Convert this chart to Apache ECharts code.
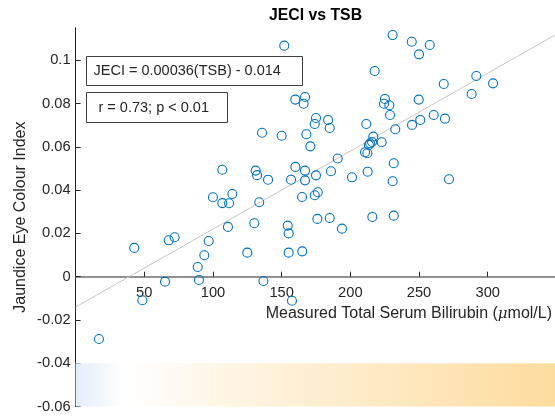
<!DOCTYPE html>
<html>
<head>
<meta charset="utf-8">
<script src="https://cdn.jsdelivr.net/npm/echarts@6/dist/echarts.min.js"></script>
<style>
  html, body { margin: 0; padding: 0; background: #fff; }
  #chart { width: 555px; height: 417px; }
</style>
</head>
<body>
<div id="chart"></div>
<script>
// measured total serum bilirubin (umol/L) and jaundice eye colour index
const tsb = [
    17.0, 42.7, 48.6, 65.1, 67.8, 72.1, 88.9, 89.8, 93.7, 96.9,
    100.0, 106.8, 106.8, 111.7, 110.9, 114.1, 125.0, 130.1, 131.1, 132.1,
    133.7, 136.7, 140.1, 154.4, 155.1, 155.1, 156.8, 157.5, 160.0, 164.8,
    165.0, 167.0, 167.0, 174.1, 175.0, 176.3, 176.0, 185.0, 185.9, 190.8,
    193.9, 201.2, 210.7, 212.4, 212.6, 216.0, 230.8, 231.6, 231.6, 271.8,
    135.7, 150.0, 151.9, 159.9, 166.0, 167.0, 168.0, 170.9, 174.1, 175.0,
    183.8, 185.0, 211.6, 214.3, 215.8, 213.5, 216.7, 217.7, 222.8, 224.5,
    225.2, 228.4, 228.9, 230.8, 232.7, 244.7, 244.9, 249.8, 250.0, 250.9,
    257.8, 260.7, 268.0, 268.9, 288.3, 291.7, 303.9,
];
const jeci = [
    -0.0288, 0.0133, -0.0109, -0.0023, 0.0168, 0.0182, 0.0045, -0.0015, 0.0099, 0.0165,
    0.0367, 0.0494, 0.0340, 0.0339, 0.0230, 0.0382, 0.0111, 0.0247, 0.0490, 0.0469,
    0.0344, -0.0020, 0.0448, 0.0236, 0.0200, 0.0111, 0.0448, -0.0111, 0.0507, 0.0368,
    0.0117, 0.0490, 0.0445, 0.0376, 0.0468, 0.0390, 0.0267, 0.0271, 0.0487, 0.0546,
    0.0222, 0.0459, 0.0575, 0.0570, 0.0485, 0.0276, 0.0441, 0.0524, 0.0282, 0.0450,
    0.0665, 0.0651, 0.1067, 0.0818, 0.0799, 0.0830, 0.0658, 0.0602, 0.0705, 0.0733,
    0.0724, 0.0687, 0.0705, 0.0616, 0.0622, 0.0608, 0.0647, 0.0950, 0.0621, 0.0799,
    0.0821, 0.0792, 0.0747, 0.1116, 0.0681, 0.1085, 0.0701, 0.0818, 0.1027, 0.0724,
    0.1070, 0.0747, 0.0890, 0.0730, 0.0844, 0.0927, 0.0893,
];

// JECI = 0.00036(TSB) - 0.014, end points across the axis
const fitLine = [[0, -0.014], [350, 0.112]];
const xTicks = [50, 100, 150, 200, 250, 300];
const yTicks = [-0.06, -0.04, -0.02, 0, 0.02, 0.04, 0.06, 0.08, 0.1];
const bandX = [0, 350];
const bandY = [-0.06, -0.04];
const fitText = 'JECI = 0.00036(TSB) - 0.014';
const statText = 'r = 0.73; p < 0.01';

const FONT = "'Liberation Sans', Arial, sans-serif";
const INK = '#262626';
const BLUE = '#0072BD';

const chart = echarts.init(document.getElementById('chart'));

chart.setOption({
    animation: false,
    textStyle: { fontFamily: FONT },
    title: {
        text: 'JECI vs TSB',
        left: 264, top: 3,
        textStyle: { fontSize: 15.8, fontWeight: 'bold', color: '#000', fontFamily: FONT },
    },
    grid: {
        left: 75.6, right: -1.4, top: 27.7, bottom: 10.4,
        containLabel: false, outerBoundsMode: 'none',
    },
    xAxis: {
        type: 'value', min: 0, max: 350,
        // the x axis sits on y = 0, 129.9px above the plot bottom
        offset: -129.9,
        axisLine: { onZero: false, lineStyle: { color: '#6e6e6e', width: 1.6 } },
        axisTick: { inside: true, length: 5, customValues: xTicks, lineStyle: { color: INK } },
        axisLabel: { customValues: xTicks, color: INK, fontSize: 14.7, margin: 9 },
        splitLine: { show: false },
    },
    yAxis: {
        type: 'value', min: -0.06, max: 0.115,
        name: 'Jaundice Eye Colour Index',
        nameLocation: 'middle', nameGap: 47, nameMoveOverlap: false,
        nameTextStyle: { color: INK, fontSize: 16 },
        axisLine: { show: true, onZero: false, lineStyle: { color: INK, width: 1 } },
        axisTick: { inside: true, length: 5, customValues: yTicks, lineStyle: { color: INK } },
        axisLabel: {
            customValues: yTicks, color: INK, fontSize: 14.7, margin: 5,
            formatter: v => String(+v.toFixed(2)),
        },
        splitLine: { show: false },
    },
    graphic: [
        {
            type: 'text', x: 552, y: 314,
            style: {
                text: 'Measured Total Serum Bilirubin ({mu|μ}mol/L)',
                fill: INK, font: `16px ${FONT}`, align: 'right', verticalAlign: 'middle',
                rich: { mu: { fontStyle: 'italic', fontFamily: "'DejaVu Serif', serif", fontSize: 15, fill: INK } },
            },
        },
        {
            type: 'group', z: 100,
            children: [
                { type: 'rect', shape: { x: 86.5, y: 56.5, width: 216, height: 29 },
                  style: { fill: '#fff', stroke: '#404040', lineWidth: 1 } },
                { type: 'text', x: 93.5, y: 71, style: { text: fitText, fill: INK, font: `14.5px ${FONT}`, verticalAlign: 'middle' } },
                { type: 'rect', shape: { x: 86.5, y: 92.5, width: 141, height: 30 },
                  style: { fill: '#fff', stroke: '#404040', lineWidth: 1 } },
                { type: 'text', x: 98.5, y: 108, style: { text: statText, fill: INK, font: `14.5px ${FONT}`, verticalAlign: 'middle' } },
            ],
        },
    ],
    series: [
        {
            type: 'line',
            data: fitLine,
            showSymbol: false,
            lineStyle: { color: '#c6c6c6', width: 1 },
            z: 1,
            markArea: {
                silent: true,
                itemStyle: {
                    color: new echarts.graphic.LinearGradient(0, 0, 1, 0, [
                        { offset: 0, color: '#e4edfb' },
                        { offset: 0.1, color: '#ffffff' },
                        { offset: 0.3, color: '#fff6e6' },
                        { offset: 1, color: '#fddc9e' },
                    ]),
                },
                data: [[{ xAxis: bandX[0], yAxis: bandY[1] }, { xAxis: bandX[1], yAxis: bandY[0] }]],
            },
        },
        {
            type: 'scatter',
            data: tsb.map((x, i) => [x, jeci[i]]),
            symbol: 'circle',
            symbolSize: 9,
            itemStyle: { color: 'rgba(0,0,0,0)', borderColor: BLUE, borderWidth: 1.1, opacity: 1 },
            z: 2,
        },
    ],
});
</script>
</body>
</html>
